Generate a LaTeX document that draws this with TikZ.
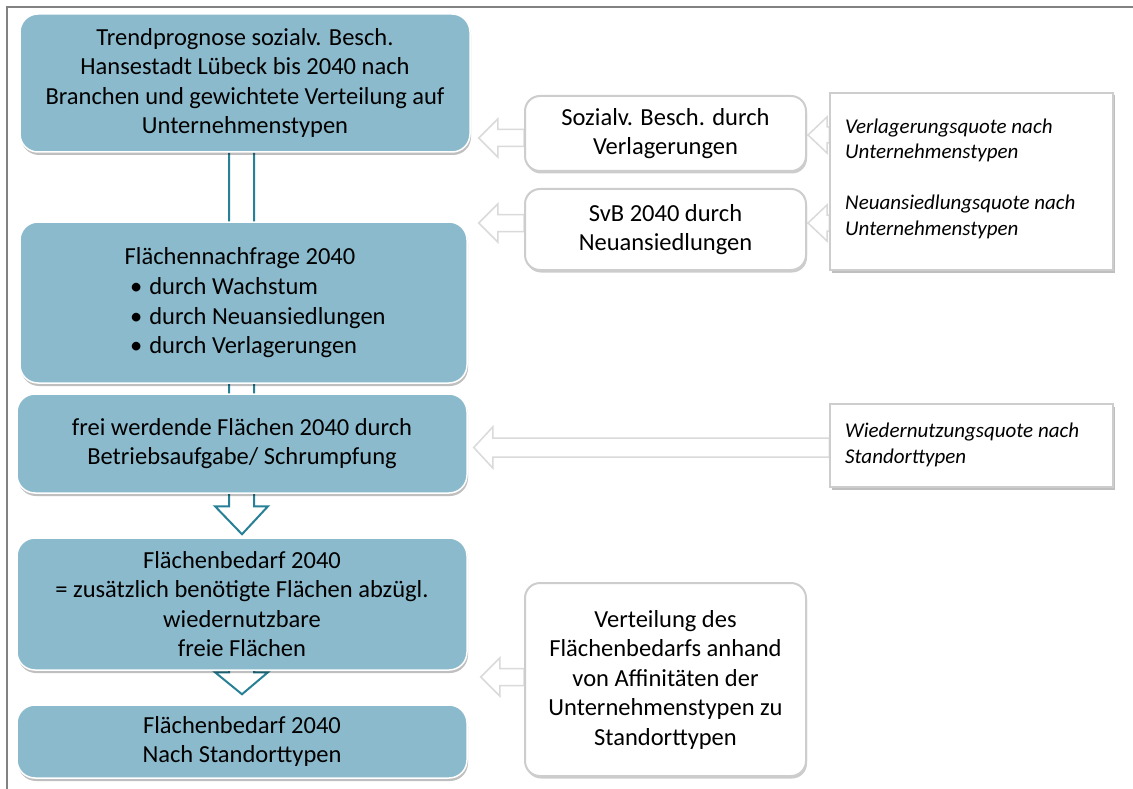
\documentclass[tikz,border=0pt]{standalone}
\usepackage{fontspec}
\setmainfont{Carlito}
\usetikzlibrary{calc,shadows}
\pgfdeclarelayer{bg}
\pgfdeclarelayer{back}
\pgfsetlayers{back,bg,main}
\definecolor{boxblue}{RGB}{139,186,204}
\definecolor{tealline}{RGB}{40,128,150}
\definecolor{arrgray}{RGB}{218,218,218}
\definecolor{framegray}{RGB}{130,130,130}
\definecolor{boxgray}{RGB}{205,205,205}
\tikzset{
  bluebox/.style={rectangle, rounded corners=18pt, fill=boxblue, draw=white, line width=1.5pt,
    drop shadow={shadow xshift=1pt, shadow yshift=-3pt, opacity=0.25, fill=black},
    inner sep=0pt, font=\fontsize{24.5}{29.5}\selectfont, align=center},
  whitebox/.style={rectangle, rounded corners=15pt, fill=white, draw=boxgray, line width=2pt,
    drop shadow={shadow xshift=1pt, shadow yshift=-2.5pt, opacity=0.2, fill=black},
    inner sep=0pt, font=\fontsize{24.5}{29.5}\selectfont, align=center},
  quotebox/.style={rectangle, fill=white, draw=boxgray, line width=1.5pt,
    drop shadow={shadow xshift=1.5pt, shadow yshift=-2.5pt, opacity=0.25, fill=black},
    inner sep=0pt},
  plaintext/.style={inner sep=0pt, font=\fontsize{24.5}{29.5}\selectfont},
  qtext/.style={inner sep=0pt, anchor=west, align=left, font=\fontsize{21}{25.5}\selectfont\itshape},
  harrow/.style={draw=arrgray, fill=white, line width=1.5pt, line join=miter},
  darrow/.style={draw=tealline, fill=white, line width=2pt, line join=miter},
  frameline/.style={draw=framegray, line width=2pt}
}
\newcommand\hollowleft[4]{%
  \draw[harrow] let \p1=(#1), \p2=(#2) in
    (\x2,\y1) -- (\x2+19pt,\y1+#3) -- (\x2+19pt,\y1+#4) -- (\x1,\y1+#4)
    -- (\x1,\y1-#4) -- (\x2+19pt,\y1-#4) -- (\x2+19pt,\y1-#3) -- cycle;}
\begin{document}
\begin{tikzpicture}[x=1pt,y=-1pt]
\useasboundingbox (0,0) rectangle (1133,789);
\begin{pgfonlayer}{back}
\fill[white] (0,0) rectangle (1133,789);
\end{pgfonlayer}
% frame
\coordinate (f1) at (1133,7);
\coordinate (f2) at (7,7);
\coordinate (f3) at (7,789);
\draw[frameline] (f1) -- (f2) -- (f3);

% left column
\node[bluebox, minimum width=450, minimum height=138] (A) at (245,83)
  {Trendprognose sozialv. Besch.\\Hansestadt Lübeck bis 2040 nach\\Branchen und gewichtete Verteilung auf\\Unternehmenstypen};
\node[bluebox, minimum width=447, minimum height=161] (B) at (243.5,302.5) {};
\node[plaintext] (Bt) at (240,258) {Flächennachfrage 2040};
\node[plaintext, anchor=west, align=left] (Bl) at (130,318)
  {\textbullet\hspace{7pt}durch Wachstum\\\textbullet\hspace{7pt}durch Neuansiedlungen\\\textbullet\hspace{7pt}durch Verlagerungen};
\node[bluebox, minimum width=450, minimum height=99] (C) at (242,443.5)
  {frei werdende Flächen 2040 durch\\Betriebsaufgabe/ Schrumpfung};
\node[bluebox, minimum width=450, minimum height=132] (D) at (242,604)
  {Flächenbedarf 2040\\= zusätzlich benötigte Flächen abzügl.\\wiedernutzbare\\freie Flächen};
\node[bluebox, minimum width=450, minimum height=73] (E) at (242,741.5)
  {Flächenbedarf 2040\\Nach Standorttypen};

% middle column
\node[whitebox, minimum width=281, minimum height=75] (R1) at (665.5,133.5)
  {Sozialv. Besch. durch\\Verlagerungen};
\node[whitebox, minimum width=281, minimum height=81] (R2) at (665.5,229.5)
  {SvB 2040 durch\\Neuansiedlungen};
\node[whitebox, minimum width=281, minimum height=193] (R3) at (665.5,679.5)
  {Verteilung des\\Flächenbedarfs anhand\\von Affinitäten der\\Unternehmenstypen zu\\Standorttypen};

% right column
\node[quotebox, minimum width=283, minimum height=177] (Q1) at (971.5,181.5) {};
\node[qtext] (Q1a) at (845,140.5) {Verlagerungsquote nach\\Unternehmenstypen};
\node[qtext] (Q1b) at (845,217) {Neuansiedlungsquote nach\\Unternehmenstypen};
\node[quotebox, minimum width=283, minimum height=83] (Q2) at (971.5,445.5) {};
\node[qtext] (Q2a) at (845,445) {Wiedernutzungsquote nach\\Standorttypen};

% connectors
\begin{pgfonlayer}{bg}
\draw[darrow] let \p1=(A.south), \p2=(D.north) in
  (\x1-16pt,\y1) -- (\x1-16pt,\y2+31pt) -- (\x1-30pt,\y2+31pt) -- (\x2,\y2+3pt)
  -- (\x1+23pt,\y2+31pt) -- (\x1+9pt,\y2+31pt) -- (\x1+9pt,\y1);
\draw[darrow] let \p1=(D.south), \p2=(E.north) in
  (\x1-13pt,\y1) -- (\x1-13pt,\y2+32pt) -- (\x1-27pt,\y2+32pt) -- (\x2,\y2+10pt)
  -- (\x1+26pt,\y2+32pt) -- (\x1+12pt,\y2+32pt) -- (\x1+12pt,\y1);
\hollowleft{$(R1.west)+(0,4.5)$}{$(A.east)+(8,0)$}{19pt}{8.5pt}
\hollowleft{$(R2.west)+(0,-6.5)$}{$(B.east)+(11,0)$}{19pt}{8.5pt}
\hollowleft{$(Q1.west)+(0,-46.5)$}{$(R1.east)+(1,0)$}{18pt}{8pt}
\hollowleft{$(Q1.west)+(0,41.5)$}{$(R2.east)+(1,0)$}{18pt}{8pt}
\hollowleft{$(Q2.west)+(0,2)$}{$(C.east)+(6,0)$}{20.5pt}{9.5pt}
\hollowleft{$(R3.west)+(0,-2.5)$}{$(D.east)+(13,0)$}{19pt}{8.5pt}
\end{pgfonlayer}
\end{tikzpicture}
\end{document}
